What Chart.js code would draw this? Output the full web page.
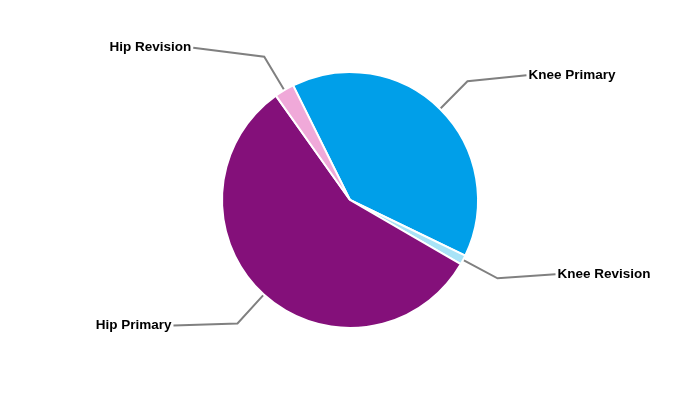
<!DOCTYPE html>
<html>
<head>
<meta charset="utf-8">
<script src="https://cdn.jsdelivr.net/npm/chart.js@4"></script>
<style>
  html, body { margin: 0; padding: 0; background: #fff; }
  #wrap { width: 700px; height: 400px; }
</style>
</head>
<body>
<div id="wrap"><canvas id="pie-chart"></canvas></div>
<script>
// data
const sliceLabels = ['Knee Primary', 'Knee Revision', 'Hip Primary', 'Hip Revision'];
const sliceValues = [39.5, 1.2, 56.8, 2.5];
const sliceColors = ['#009fe9', '#a8e3f7', '#84107a', '#f0a9d9'];

// leader lines + outside labels
const leaderLabels = {
  id: 'leaderLabels',
  afterDatasetsDraw(chart, args, opts) {
    const ctx = chart.ctx;
    const arcs = chart.getDatasetMeta(0).data;
    ctx.save();
    ctx.strokeStyle = '#808080';
    ctx.lineWidth = 2;
    ctx.fillStyle = '#000';
    ctx.font = 'bold 13.5px "Liberation Sans", Arial, sans-serif';
    ctx.textBaseline = 'middle';
    arcs.forEach((arc, i) => {
      const mid = (arc.startAngle + arc.endAngle) / 2;
      const r = arc.outerRadius;
      const sx = arc.x + Math.cos(mid) * (r + 1);
      const sy = arc.y + Math.sin(mid) * (r + 1);
      const ex = arc.x + Math.cos(mid) * (r + opts.elbow);
      const ey = arc.y + Math.sin(mid) * (r + opts.elbow);
      const tail = opts.tails[i];
      const tx = ex + tail[0];
      const ty = ey + tail[1];
      ctx.beginPath();
      ctx.moveTo(sx, sy);
      ctx.lineTo(ex, ey);
      ctx.lineTo(tx, ty);
      ctx.stroke();
      if (tail[0] > 0) {
        ctx.textAlign = 'left';
        ctx.fillText(chart.data.labels[i], tx + 2, ty);
      } else {
        ctx.textAlign = 'right';
        ctx.fillText(chart.data.labels[i], tx - 2, ty);
      }
    });
    ctx.restore();
  }
};

new Chart(document.getElementById('pie-chart'), {
  type: 'pie',
  data: {
    labels: sliceLabels,
    datasets: [{
      data: sliceValues,
      backgroundColor: sliceColors,
      borderColor: '#ffffff',
      borderWidth: 2
    }]
  },
  options: {
    responsive: true,
    maintainAspectRatio: false,
    animation: false,
    rotation: -26.4,
    radius: 128,
    plugins: {
      legend: { display: false },
      tooltip: { enabled: false },
      leaderLabels: {
        elbow: 39,
        tails: [[59, -6], [58, -4], [-64, 2], [-71, -9]]
      }
    }
  },
  plugins: [leaderLabels]
});
</script>
</body>
</html>
